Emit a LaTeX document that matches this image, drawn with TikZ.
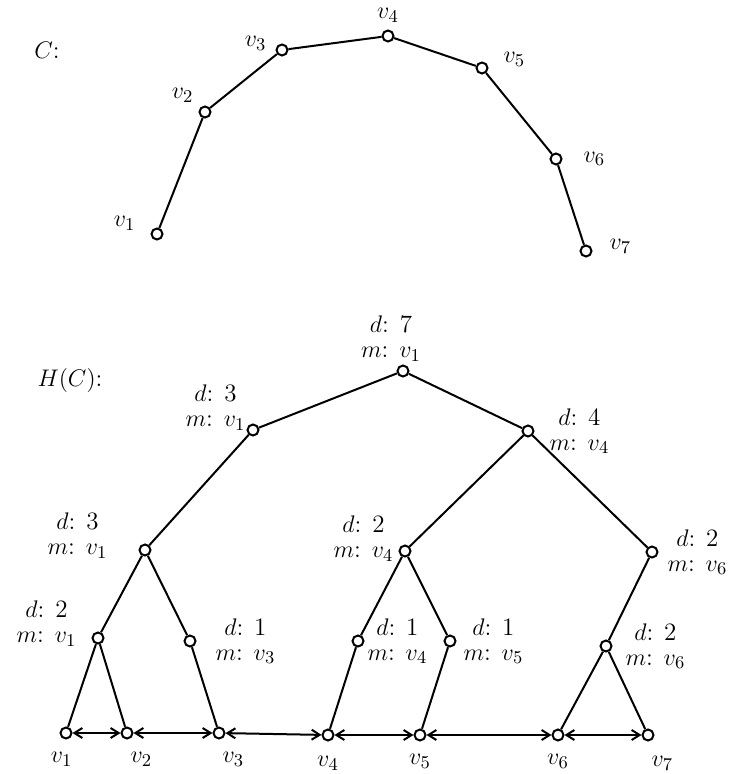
\documentclass[tikz,border=0pt,12pt]{standalone}
\usepackage{amsmath}
\usetikzlibrary{arrows.meta,positioning}
\tikzset{
  vert/.style={circle,draw,minimum size=5.5pt,inner sep=0pt},
  lbl/.style={inner sep=1pt,align=center,font=\fontsize{12.5}{12.5}\selectfont},
}

\begin{document}
\begin{tikzpicture}[x=0.5pt,y=-0.5pt,>={Straight Barb[length=4pt,width=5pt]},line width=1pt]
  \useasboundingbox (0,0) rectangle (735,774);
  % the curve C
  \node[lbl] (Cname) at (47,50) {$C$:};
  \node[vert] (c1) at (157,234) {};
  \node[vert] (c2) at (205,112) {};
  \node[vert] (c3) at (282,50) {};
  \node[vert] (c4) at (388,36) {};
  \node[vert] (c5) at (482,68) {};
  \node[vert] (c6) at (556,159) {};
  \node[vert] (c7) at (586,251) {};
  \draw (c1) -- (c2) -- (c3) -- (c4) -- (c5) -- (c6) -- (c7);
  \node[lbl,above left=-2pt and 7pt of c1] {$v_1$};
  \node[lbl,above left=1pt and 2pt of c2] {$v_2$};
  \node[lbl,above left=-4pt and 4pt of c3] {$v_3$};
  \node[lbl,above=2pt of c4] {$v_4$};
  \node[lbl,above right=-3pt and 7pt of c5] {$v_5$};
  \node[lbl,right=9pt of c6] {$v_6$};
  \node[lbl,above right=-5pt and 8pt of c7] {$v_7$};

  % the tree H(C)
  \node[lbl] (Hname) at (70,380) {$H(C)$:};
  \node[vert] (r) at (403,371) {};
  \node[vert] (a) at (253,430) {};
  \node[vert] (b) at (528,431) {};
  \node[vert] (a1) at (145,550) {};
  \node[vert] (b1) at (405,551) {};
  \node[vert] (b2) at (652,552) {};
  \node[vert] (a11) at (98,638) {};
  \node[vert] (a12) at (190,641) {};
  \node[vert] (b11) at (358,641) {};
  \node[vert] (b12) at (450,641) {};
  \node[vert] (b21) at (606,646) {};
  \node[vert] (l1) at (66,733) {};
  \node[vert] (l2) at (127,733) {};
  \node[vert] (l3) at (219,733) {};
  \node[vert] (l4) at (328,735) {};
  \node[vert] (l5) at (420,735) {};
  \node[vert] (l6) at (558,735) {};
  \node[vert] (l7) at (648,735) {};
  \draw (r) -- (a);
  \draw (r) -- (b);
  \draw (a) -- (a1);
  \draw (a1) -- (a11);
  \draw (a1) -- (a12);
  \draw (a11) -- (l1);
  \draw (a11) -- (l2);
  \draw (a12) -- (l3);
  \draw (b) -- (b1);
  \draw (b) -- (b2);
  \draw (b1) -- (b11);
  \draw (b1) -- (b12);
  \draw (b11) -- (l4);
  \draw (b12) -- (l5);
  \draw (b2) -- (b21);
  \draw (b21) -- (l6);
  \draw (b21) -- (l7);
  \draw[<->] (l1) -- (l2);
  \draw[<->] (l2) -- (l3);
  \draw[<->] (l3) -- (l4);
  \draw[<->] (l4) -- (l5);
  \draw[<->] (l5) -- (l6);
  \draw[<->] (l6) -- (l7);
  \node[lbl,above=0pt of r,xshift=-6pt] {$d$: 7\\$m$: $v_1$};
  \node[lbl,above left=-4pt and 0pt of a] {$d$: 3\\$m$: $v_1$};
  \node[lbl,right=6pt of b] {$d$: 4\\$m$: $v_4$};
  \node[lbl,above left=-8pt and 15pt of a1] {$d$: 3\\$m$: $v_1$};
  \node[lbl,above left=-9pt and 2pt of b1] {$d$: 2\\$m$: $v_4$};
  \node[lbl,right=3pt of b2] {$d$: 2\\$m$: $v_6$};
  \node[lbl,above left=-8pt and 7pt of a11] {$d$: 2\\$m$: $v_1$};
  \node[lbl,right=8pt of a12] {$d$: 1\\$m$: $v_3$};
  \node[lbl,right=0pt of b11] {$d$: 1\\$m$: $v_4$};
  \node[lbl,right=2pt of b12] {$d$: 1\\$m$: $v_5$};
  \node[lbl,right=5pt of b21] {$d$: 2\\$m$: $v_6$};
  \node[lbl,below left=6pt and -7pt of l1] {$v_1$};
  \node[lbl,below right=6pt and -2pt of l2] {$v_2$};
  \node[lbl,below right=6pt and -2pt of l3] {$v_3$};
  \node[lbl,below=6pt of l4] {$v_4$};
  \node[lbl,below=5pt of l5] {$v_5$};
  \node[lbl,below=5pt of l6] {$v_6$};
  \node[lbl,below right=7pt and -2pt of l7] {$v_7$};
\end{tikzpicture}
\end{document}
